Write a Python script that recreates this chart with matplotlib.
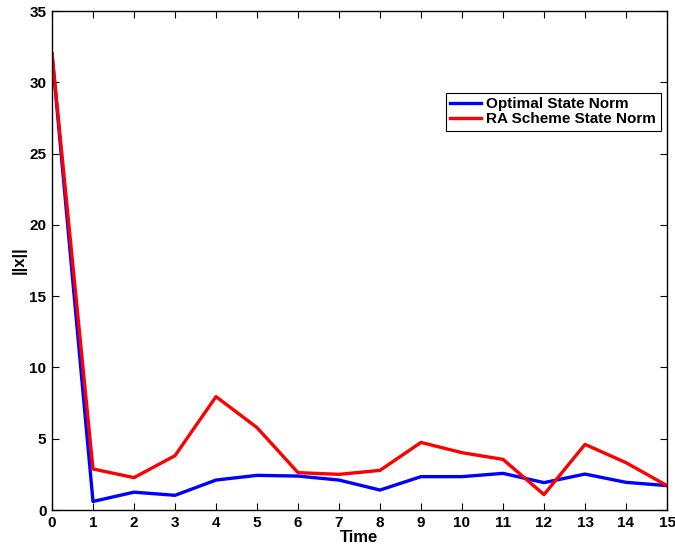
import matplotlib
matplotlib.use("Agg")
import matplotlib.pyplot as plt

time = list(range(16))
optimal = [32.0, 0.6, 1.25, 1.03, 2.1, 2.43, 2.38, 2.1, 1.4, 2.34, 2.34, 2.57, 1.92, 2.52, 1.94, 1.71]
ra_scheme = [32.0, 2.88, 2.27, 3.81, 7.95, 5.78, 2.62, 2.5, 2.78, 4.74, 4.02, 3.55, 1.08, 4.6, 3.32, 1.71]
xticks = list(range(16))
yticks = [0, 5, 10, 15, 20, 25, 30, 35]

plt.rcParams['font.family'] = ['Liberation Sans', 'DejaVu Sans']
plt.rcParams['font.weight'] = 'bold'

fig = plt.figure(figsize=(6.75, 5.46), dpi=100)
ax = fig.add_axes([52/675, 1-510/546, (667-52)/675, (510-11)/546])
ax.plot(time, optimal, color='#0000ff', lw=2.4, label='Optimal State Norm')
ax.plot(time, ra_scheme, color='#ff0000', lw=2.4, label='RA Scheme State Norm')
ax.set_xlim(0, 15)
ax.set_ylim(0, 35)
ax.set_xticks(xticks)
ax.set_yticks(yticks)
ax.tick_params(direction='in', top=True, right=True, labelsize=11, length=5, width=0.8, pad=4)
for lab in ax.get_xticklabels() + ax.get_yticklabels():
    lab.set_fontweight('bold')
ax.set_xlabel('Time', fontsize=12, fontweight='bold', labelpad=0)
ax.set_ylabel('||x||', fontsize=12, fontweight='bold', labelpad=2)
for s in ax.spines.values():
    s.set_linewidth(1.0)
leg = ax.legend(loc='upper right', bbox_to_anchor=(0.99, 0.836), borderaxespad=0,
                fancybox=False, edgecolor='black', framealpha=1,
                handlelength=2.0, handletextpad=0.35, borderpad=0.3, labelspacing=0.05,
                prop={'weight': 'bold', 'size': 11})
leg.get_frame().set_linewidth(0.8)
fig.savefig('out.png', dpi=100)
